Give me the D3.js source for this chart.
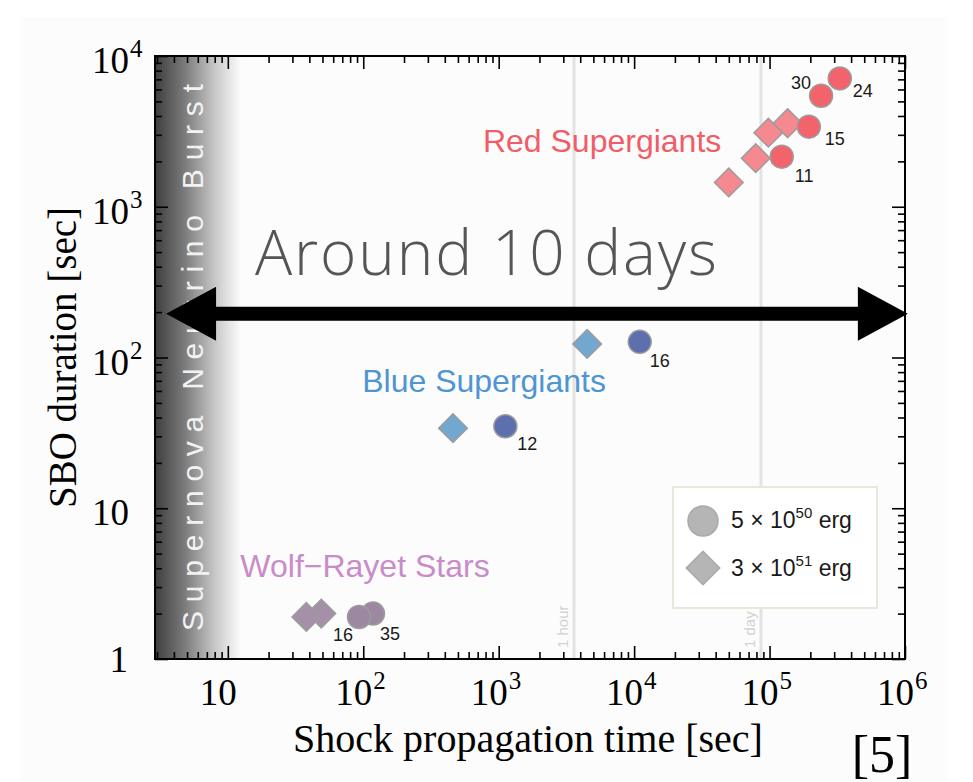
<!DOCTYPE html>
<html>
<head>
<meta charset="utf-8">
<script src="https://cdn.jsdelivr.net/npm/d3@7"></script>
<style>
body{margin:0;background:#fff;}
svg{display:block;}
</style>
</head>
<body>
<div id="chart"></div>
<script>
// shock propagation time [sec] vs SBO duration [sec]; mass labels in solar masses
var rsgMass = ["24", "30", "15", "11"];
var rsgTime = [3.3e5, 2.4e5, 1.95e5, 1.23e5];
var rsgDur = [7100, 5450, 3400, 2150];
var rsgHiTime = [1.36e5, 9.8e4, 7.9e4, 5.0e4];
var rsgHiDur = [3580, 3100, 2100, 1450];

var bsgMass = ["16", "12"];
var bsgTime = [1.1e4, 1120];
var bsgDur = [127, 35];
var bsgHiTime = [4500, 460];
var bsgHiDur = [123, 34];

var wrMass = ["35", "16"];
var wrTime = [118, 93];
var wrDur = [2.0, 1.9];
var wrHiTime = [49, 38];
var wrHiDur = [2.0, 1.9];

var groupNames = ["Red Supergiants", "Blue Supergiants", "Wolf\u2212Rayet Stars"];
var groupTime = [5800, 780, 103];
var groupDur = [2300, 59, 3.5];

var xTickExp = [1, 2, 3, 4, 5, 6];
var yTickExp = [0, 1, 2, 3, 4];
var refTimes = [3600, 86400];
var refLabels = ["1 hour", "1 day"];
var burstEnd = 12.5;
var arrowTimes = [3.5, 1.05e6];
var arrowDur = 195;

function init(){
    var width = 973, height = 782;
    var margin = {top: 56, right: 68, bottom: 123, left: 155};

    var svg = d3.select("#chart").append("svg")
        .attr("width", width)
        .attr("height", height);

    svg.append("rect")
        .attr("x", 20).attr("y", 17)
        .attr("width", 928).attr("height", 765)
        .attr("fill", "#fcfcfc");

    var x = d3.scaleLog()
        .domain([2.9, 1e6])
        .range([margin.left, width - margin.right]);
    var y = d3.scaleLog()
        .domain([1, 1e4])
        .range([height - margin.bottom, margin.top]);

    var x0 = x.range()[0], x1 = x.range()[1];
    var y0 = y.range()[0], y1 = y.range()[1];

    // neutrino burst band
    var grad = svg.append("defs").append("linearGradient")
        .attr("id", "burst").attr("x1", "0").attr("x2", "1").attr("y1", "0").attr("y2", "0");
    grad.append("stop").attr("offset", "0").attr("stop-color", "#3e3e3e");
    grad.append("stop").attr("offset", "0.35").attr("stop-color", "#7c7c7c");
    grad.append("stop").attr("offset", "0.7").attr("stop-color", "#c8c8c8");
    grad.append("stop").attr("offset", "1").attr("stop-color", "#fcfcfc");

    svg.append("rect")
        .attr("x", x0).attr("y", y1)
        .attr("width", x(burstEnd) - x0)
        .attr("height", y0 - y1)
        .attr("fill", "url(#burst)");

    svg.append("text")
        .attr("transform", "translate(203," + ((y0 + y1) / 2) + ") rotate(-90)")
        .attr("text-anchor", "middle")
        .attr("font-family", "Liberation Sans, Arial, sans-serif")
        .attr("font-size", 30)
        .attr("fill", "#f2f2f2")
        .attr("textLength", 547)
        .attr("lengthAdjust", "spacing")
        .text("Supernova Neutrino Burst");

    // 1 hour / 1 day lines
    refTimes.forEach(function(t, i){
        svg.append("line")
            .attr("x1", x(t)).attr("x2", x(t))
            .attr("y1", y1).attr("y2", y0)
            .attr("stroke", "#e3e3e3")
            .attr("stroke-width", 3);
        svg.append("text")
            .attr("transform", "translate(" + (x(t) - 6) + "," + (y0 - 11) + ") rotate(-90)")
            .attr("font-family", "Liberation Sans, Arial, sans-serif")
            .attr("font-size", 15)
            .attr("fill", "#d2d2d2")
            .text(refLabels[i]);
    });

    // axes with inward ticks
    var majorX = xTickExp.map(function(e){ return Math.pow(10, e); });
    var minorX = [];
    for (var e = 0; e < 6; e++) for (var k = 2; k < 10; k++) {
        var v = k * Math.pow(10, e);
        if (v > x.domain()[0]) minorX.push(v);
    }
    var majorY = yTickExp.map(function(e){ return Math.pow(10, e); });
    var minorY = [];
    for (var e2 = 0; e2 < 4; e2++) for (var k2 = 2; k2 < 10; k2++) minorY.push(k2 * Math.pow(10, e2));

    function styleAxis(g){
        g.selectAll(".domain").remove();
        g.selectAll(".tick line").attr("stroke", "#000").attr("stroke-width", 1.6);
        g.selectAll(".tick text").remove();
    }

    svg.append("g").attr("transform", "translate(0," + y0 + ")")
        .call(d3.axisBottom(x).tickValues(majorX).tickSize(-13)).call(styleAxis);
    svg.append("g").attr("transform", "translate(0," + y0 + ")")
        .call(d3.axisBottom(x).tickValues(minorX).tickSize(-7)).call(styleAxis);
    svg.append("g").attr("transform", "translate(0," + y1 + ")")
        .call(d3.axisTop(x).tickValues(majorX).tickSize(-13)).call(styleAxis);
    svg.append("g").attr("transform", "translate(0," + y1 + ")")
        .call(d3.axisTop(x).tickValues(minorX).tickSize(-7)).call(styleAxis);
    svg.append("g").attr("transform", "translate(" + x0 + ",0)")
        .call(d3.axisLeft(y).tickValues(majorY).tickSize(-13)).call(styleAxis);
    svg.append("g").attr("transform", "translate(" + x0 + ",0)")
        .call(d3.axisLeft(y).tickValues(minorY).tickSize(-7)).call(styleAxis);
    svg.append("g").attr("transform", "translate(" + x1 + ",0)")
        .call(d3.axisRight(y).tickValues(majorY).tickSize(-13)).call(styleAxis);
    svg.append("g").attr("transform", "translate(" + x1 + ",0)")
        .call(d3.axisRight(y).tickValues(minorY).tickSize(-7)).call(styleAxis);

    svg.append("rect")
        .attr("x", x0).attr("y", y1)
        .attr("width", x1 - x0).attr("height", y0 - y1)
        .attr("fill", "none").attr("stroke", "#000").attr("stroke-width", 2);

    // tick labels
    var serif = "Liberation Serif, Times New Roman, serif";
    xTickExp.forEach(function(e){
        var px = x(Math.pow(10, e));
        svg.append("text")
            .attr("x", px + 9).attr("y", 705)
            .attr("text-anchor", "end")
            .attr("font-family", serif).attr("font-size", 37)
            .text("10");
        if (e > 1) {
            svg.append("text")
                .attr("x", px + 10).attr("y", 689)
                .attr("font-family", serif).attr("font-size", 25)
                .text(e);
        }
    });
    yTickExp.forEach(function(e){
        var py = y(Math.pow(10, e));
        svg.append("text")
            .attr("x", e === 0 ? 128 : 129).attr("y", py + (e === 0 ? 13 : 17))
            .attr("text-anchor", "end")
            .attr("font-family", serif).attr("font-size", 37)
            .text(e === 0 ? "1" : "10");
        if (e > 1) {
            svg.append("text")
                .attr("x", 130).attr("y", py + 1)
                .attr("font-family", serif).attr("font-size", 25)
                .text(e);
        }
    });

    // axis titles
    svg.append("text")
        .attr("x", 528).attr("y", 752)
        .attr("text-anchor", "middle")
        .attr("font-family", serif).attr("font-size", 40)
        .text("Shock propagation time [sec]");
    svg.append("text")
        .attr("transform", "translate(76," + ((y0 + y1) / 2) + ") rotate(-90)")
        .attr("text-anchor", "middle")
        .attr("font-family", serif).attr("font-size", 39)
        .text("SBO duration [sec]");
    svg.append("text")
        .attr("x", 882).attr("y", 772)
        .attr("text-anchor", "middle")
        .attr("font-family", serif).attr("font-size", 52)
        .text("[5]");

    // 10-day arrow annotation
    var ay = y(arrowDur), ax0 = x(arrowTimes[0]), ax1 = x(arrowTimes[1]);
    var headL = 50, headH = 27, shaft = 7;
    svg.append("path")
        .attr("d", "M" + ax0 + "," + ay +
            "L" + (ax0 + headL) + "," + (ay - headH) +
            "L" + (ax0 + headL) + "," + (ay - shaft) +
            "L" + (ax1 - headL) + "," + (ay - shaft) +
            "L" + (ax1 - headL) + "," + (ay - headH) +
            "L" + ax1 + "," + ay +
            "L" + (ax1 - headL) + "," + (ay + headH) +
            "L" + (ax1 - headL) + "," + (ay + shaft) +
            "L" + (ax0 + headL) + "," + (ay + shaft) +
            "L" + (ax0 + headL) + "," + (ay + headH) + "Z")
        .attr("fill", "#000");
    svg.append("text")
        .attr("x", 255).attr("y", 275)
        .attr("font-family", "Open Sans, Lato, sans-serif")
        .attr("font-weight", 300)
        .attr("font-size", 62)
        .attr("fill", "#555")
        .attr("textLength", 462)
        .attr("lengthAdjust", "spacing")
        .text("Around 10 days");

    // group labels
    var sans = "Liberation Sans, Arial, sans-serif";
    var groupColors = ["#f25c66", "#4f95d2", "#c98bc9"];
    svg.append("g").selectAll("text")
        .data(groupNames)
        .enter()
        .append("text")
            .attr("x", function(d, i){ return x(groupTime[i]); })
            .attr("y", function(d, i){ return y(groupDur[i]); })
            .attr("text-anchor", "middle")
            .attr("font-family", sans).attr("font-size", 32)
            .attr("fill", function(d, i){ return groupColors[i]; })
            .text(function(d){ return d; });

    var sq = d3.symbol().type(d3.symbolSquare).size(410);

    function diamonds(ts, ds, fill){
        svg.append("g").selectAll("path")
            .data(ts)
            .enter()
            .append("path")
                .attr("d", sq)
                .attr("transform", function(d, i){ return "translate(" + x(d) + "," + y(ds[i]) + ") rotate(45)"; })
                .attr("fill", fill)
                .attr("stroke", "#9c9c9c")
                .attr("stroke-width", 1.5);
    }
    function circles(ts, ds, fill){
        svg.append("g").selectAll("circle")
            .data(ts)
            .enter()
            .append("circle")
                .attr("cx", function(d){ return x(d); })
                .attr("cy", function(d, i){ return y(ds[i]); })
                .attr("r", 11.5)
                .attr("fill", fill)
                .attr("stroke", "#9c9c9c")
                .attr("stroke-width", 1.5);
    }
    // mass label offsets from the circle center
    var offsets = {
        "r24": [13, 19, "start"], "r30": [-10, -7, "end"], "r15": [16, 18, "start"], "r11": [13, 25, "start"],
        "b16": [10, 25, "start"], "b12": [12, 24, "start"],
        "w35": [7, 26, "start"], "w16": [-6, 24, "end"]
    };
    function massLabels(ts, ds, ms, key){
        ts.forEach(function(t, i){
            var o = offsets[key + ms[i]];
            svg.append("text")
                .attr("x", x(t) + o[0]).attr("y", y(ds[i]) + o[1])
                .attr("text-anchor", o[2])
                .attr("font-family", sans).attr("font-size", 18)
                .attr("fill", "#1a1a1a")
                .text(ms[i]);
        });
    }

    diamonds(rsgHiTime, rsgHiDur, "#f5898f");
    circles(rsgTime, rsgDur, "#f3636c");
    massLabels(rsgTime, rsgDur, rsgMass, "r");

    diamonds(bsgHiTime, bsgHiDur, "#72a8d0");
    circles(bsgTime, bsgDur, "#5d6fac");
    massLabels(bsgTime, bsgDur, bsgMass, "b");

    diamonds(wrHiTime, wrHiDur, "#a68fa9");
    circles(wrTime, wrDur, "#9d88a1");
    massLabels(wrTime, wrDur, wrMass, "w");

    // legend
    var lg = svg.append("g").attr("transform", "translate(673,487)");
    lg.append("rect")
        .attr("width", 204).attr("height", 121)
        .attr("fill", "#fff")
        .attr("stroke", "#e6e9da").attr("stroke-width", 2);
    lg.append("circle")
        .attr("cx", 30).attr("cy", 34).attr("r", 15)
        .attr("fill", "#b5b5b5").attr("stroke", "#a9a9a9").attr("stroke-width", 1.5);
    lg.append("path")
        .attr("d", d3.symbol().type(d3.symbolSquare).size(560))
        .attr("transform", "translate(30,81) rotate(45)")
        .attr("fill", "#b5b5b5").attr("stroke", "#a9a9a9").attr("stroke-width", 1.5);
    var legendText = [["5 \u00d7 10", "50"], ["3 \u00d7 10", "51"]];
    legendText.forEach(function(t, i){
        var tx = lg.append("text")
            .attr("x", 58).attr("y", 41 + i * 48)
            .attr("font-family", sans).attr("font-size", 23)
            .attr("fill", "#1a1a1a");
        tx.append("tspan").text(t[0]);
        tx.append("tspan").attr("dy", -10).attr("font-size", 15).text(t[1]);
        tx.append("tspan").attr("dy", 10).text(" erg");
    });
}

init();
</script>
</body>
</html>
